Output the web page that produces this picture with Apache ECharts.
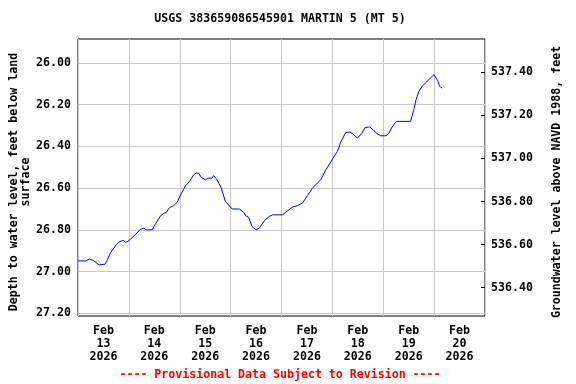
<!DOCTYPE html>
<html><head><meta charset="utf-8">
<script src="https://cdn.jsdelivr.net/npm/echarts@6/dist/echarts.min.js"></script>
<style>html,body{margin:0;padding:0;background:#fff}#c{width:576px;height:384px}</style>
</head><body><div id="c"></div>
<script>
const chartTitle = 'USGS 383659086545901 MARTIN 5 (MT 5)';
const leftAxisName = 'Depth to water level, feet below land\nsurface';
const rightAxisName = 'Groundwater level above NAVD 1988, feet';
const footNote = '---- Provisional Data Subject to Revision ----';
const dayLabels = ['Feb\n13\n2026','Feb\n14\n2026','Feb\n15\n2026','Feb\n16\n2026','Feb\n17\n2026','Feb\n18\n2026','Feb\n19\n2026','Feb\n20\n2026'];
const depthTicks = [26.0, 26.2, 26.4, 26.6, 26.8, 27.0, 27.2];
const elevTicks = [536.4, 536.6, 536.8, 537.0, 537.2, 537.4];
// hours since Feb 13 2026 00:00
const hours = [0,3.6,5.5,7.5,9.9,12.7,13.8,15.4,17.7,19.3,21.2,22.4,23.5,26.4,29.5,31.1,32.2,35.0,36.6,38.9,40.5,41.6,43.2,45.2,46.8,48.8,50.7,52.6,54.6,55.7,56.9,58.2,60.1,61.6,63.2,64.0,65.6,67.6,69.5,70.8,72.7,76.1,78.1,79.2,80.5,82.1,84.0,85.5,87.9,90.2,91.8,96.5,98.8,101.2,103.5,105.9,108.2,110.6,112.9,114.5,116.9,119.2,120.8,122.4,124.0,126.3,128.3,129.8,131.8,133.8,135.4,137.6,139.2,140.7,142.8,145.4,146.7,148.2,150.1,156.9,158.4,159.5,160.8,162.1,163.9,166.3,167.9,168.7,169.9,170.5,171.8];
const depth = [26.949,26.949,26.940,26.949,26.968,26.965,26.944,26.909,26.876,26.859,26.850,26.859,26.856,26.829,26.797,26.792,26.800,26.800,26.771,26.733,26.720,26.717,26.693,26.684,26.667,26.624,26.589,26.568,26.536,26.528,26.528,26.549,26.560,26.552,26.552,26.540,26.560,26.600,26.664,26.677,26.700,26.700,26.716,26.733,26.740,26.784,26.800,26.792,26.756,26.736,26.728,26.728,26.709,26.691,26.684,26.672,26.636,26.600,26.576,26.560,26.512,26.475,26.448,26.424,26.379,26.333,26.331,26.341,26.360,26.339,26.309,26.307,26.320,26.336,26.349,26.349,26.336,26.307,26.280,26.280,26.224,26.176,26.136,26.115,26.096,26.072,26.056,26.059,26.088,26.112,26.120];

const FONT = 'DejaVu Sans Mono';
const FS = 11.6;
const chart = echarts.init(document.getElementById('c'), null, {renderer: 'canvas'});
const txt = {fontFamily: FONT, fontSize: FS, fontWeight: 'bold', fill: '#000', align: 'center', verticalAlign: 'middle'};
chart.setOption({
  animation: false,
  backgroundColor: '#fff',
  grid: {left: 78, top: 39, width: 407, height: 277, show: true, borderColor: '#000', borderWidth: 1, backgroundColor: 'transparent', containLabel: false},
  xAxis: [
    {type: 'category', data: dayLabels, boundaryGap: true, gridIndex: 0,
     axisLine: {show: false}, axisTick: {show: false},
     axisLabel: {interval: 0, margin: 8, color: '#000', fontFamily: FONT, fontSize: FS, fontWeight: 'bold', lineHeight: 13},
     splitLine: {show: true, interval: 0, lineStyle: {color: '#c8c8c8', width: 1}}},
    {type: 'value', min: 0, max: 192, show: false, gridIndex: 0}
  ],
  yAxis: [
    {type: 'value', inverse: true, min: 25.885, max: 27.213, position: 'left',
     axisLine: {show: false},
     axisTick: {show: false, customValues: depthTicks},
     axisLabel: {customValues: depthTicks, margin: 7, color: '#000', fontFamily: FONT, fontSize: FS, fontWeight: 'bold', formatter: v => v.toFixed(2)},
     splitLine: {show: true, lineStyle: {color: '#c8c8c8', width: 1}}},
    {type: 'value', min: 536.268, max: 537.555, position: 'right',
     axisLine: {show: false},
     axisTick: {show: true, inside: true, length: 4, customValues: elevTicks, lineStyle: {color: '#000'}},
     axisLabel: {customValues: elevTicks, margin: 6, color: '#000', fontFamily: FONT, fontSize: FS, fontWeight: 'bold', formatter: v => v.toFixed(2)},
     splitLine: {show: false}}
  ],
  series: [{
    type: 'line', xAxisIndex: 1, yAxisIndex: 0,
    data: hours.map((h, i) => [h, depth[i]]),
    showSymbol: false, symbol: 'none',
    lineStyle: {color: '#0000ff', width: 1}
  }],
  graphic: [
    {type: 'text', x: 280, y: 19, style: Object.assign({}, txt, {text: chartTitle})},
    {type: 'text', x: 20, y: 182, rotation: Math.PI / 2, style: Object.assign({}, txt, {text: leftAxisName, lineHeight: 12})},
    {type: 'text', x: 557, y: 182, rotation: Math.PI / 2, style: Object.assign({}, txt, {text: rightAxisName})},
    {type: 'text', x: 280, y: 375, style: Object.assign({}, txt, {text: footNote, fill: '#ff0000'})}
  ]
});
</script>
</body></html>
